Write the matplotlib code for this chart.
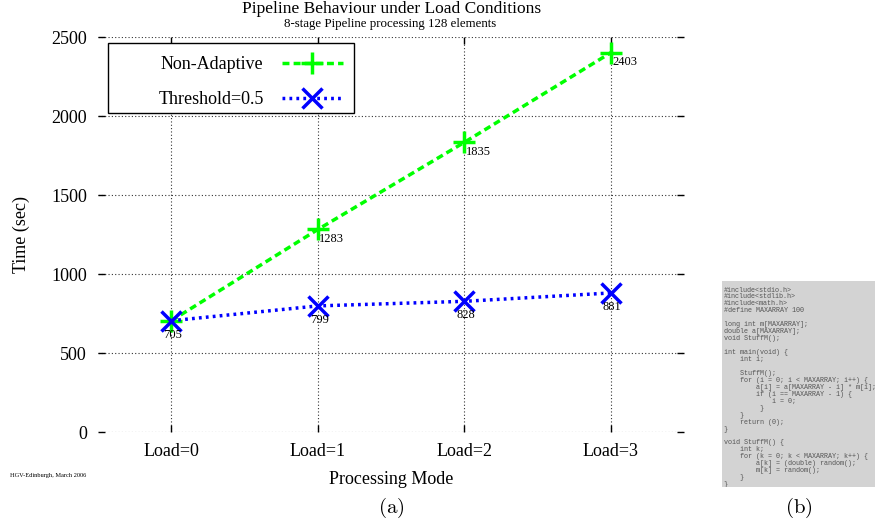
import numpy as np
import matplotlib
matplotlib.use("Agg")
import matplotlib.pyplot as plt
from matplotlib.patches import Rectangle

plt.rcParams['font.family'] = ['Liberation Serif', 'DejaVu Serif']
plt.rcParams['mathtext.fontset'] = 'cm'

# Data ##############################################################
modes = ["Load=0", "Load=1", "Load=2", "Load=3"]
non_adaptive = [705, 1283, 1835, 2403]
threshold = [705, 799, 828, 881]
y_ticks = [0, 500, 1000, 1500, 2000, 2500]

code_lines = [
    "#include<stdio.h>",
    "#include<stdlib.h>",
    "#include<math.h>",
    "#define MAXARRAY 100",
    "",
    "long int m[MAXARRAY];",
    "double a[MAXARRAY];",
    "void StuffM();",
    "",
    "int main(void) {",
    "    int i;",
    "",
    "    StuffM();",
    "    for (i = 0; i < MAXARRAY; i++) {",
    "        a[i] = a[MAXARRAY - i] * m[i];",
    "        if (i == MAXARRAY - 1) {",
    "            i = 0;",
    "         }",
    "    }",
    "    return (0);",
    "}",
    "",
    "void StuffM() {",
    "    int k;",
    "    for (k = 0; k < MAXARRAY; k++) {",
    "        a[k] = (double) random();",
    "        m[k] = random();",
    "    }",
    "}",
]

# Figure ############################################################
fig = plt.figure(figsize=(8.75, 5.25), dpi=100)
ax = fig.add_axes([0.112, 0.177, 0.670, 0.752])

x = np.arange(len(modes))
ax.plot(x, non_adaptive, color='#00ff00', linestyle=(0, (2, 1.2)), lw=2.5,
        marker='+', markersize=16, mew=2.5, label="Non-Adaptive")
ax.plot(x, threshold, color='#0000ff', linestyle=(0, (0.8, 1.2)), lw=2.5,
        marker='x', markersize=15, mew=2.5, label="Threshold=0.5")

# value labels
for xi, v in zip(x, non_adaptive):
    if xi == 0:
        continue
    ax.annotate(str(v), (xi, v), xytext=(1, -7), textcoords='offset points',
                ha='left', va='center', fontsize=9)
for xi, v in zip(x, threshold):
    ax.annotate(str(v), (xi, v), xytext=(1, -10), textcoords='offset points',
                ha='center', va='center', fontsize=9)

ax.set_xlim(-0.5, 3.5)
ax.set_ylim(0, 2500)
ax.set_xticks(x)
ax.set_xticklabels(modes)
ax.set_yticks(y_ticks)
ax.tick_params(direction='in', length=5, width=1, labelsize=13,
               top=True, right=True, pad=8)
for s in ax.spines.values():
    s.set_visible(False)
ax.grid(True, linestyle=(0, (1, 2)), color='#333333', lw=0.8)
ax.set_axisbelow(True)

ax.set_xlabel("Processing Mode", fontsize=13, labelpad=8)
ax.set_ylabel("Time (sec)", fontsize=13, labelpad=15)
fig.text(0.447, 0.975, "Pipeline Behaviour under Load Conditions",
         ha='center', va='baseline', fontsize=12.5)
fig.text(0.446, 0.949, "8-stage Pipeline processing 128 elements",
         ha='center', va='baseline', fontsize=9.3)
fig.text(0.011, 0.095, "HGV-Edinburgh, March 2006", ha='left', va='center',
         fontsize=4.6)

# legend: text right-aligned, box drawn separately to match the wide frame
leg = ax.legend(loc='upper right', bbox_to_anchor=(0.418, 0.952),
                borderaxespad=0, frameon=False, markerfirst=False,
                handlelength=3.4, fontsize=13, labelspacing=1.0,
                borderpad=0, handletextpad=1.0)
ax.add_patch(Rectangle((0.017, 0.808), 0.42, 0.177, transform=ax.transAxes,
                       facecolor='white', edgecolor='black', lw=1.0,
                       zorder=4))
leg.set_zorder(5)

fig.text(0.447, 0.032, r'$(\mathrm{a})$', ha='center', va='center', fontsize=15)
fig.text(0.913, 0.032, r'$(\mathrm{b})$', ha='center', va='center', fontsize=15)

# code panel
cax = fig.add_axes([0.825, 0.072, 0.175, 0.392])
cax.set_facecolor('#d3d3d3')
cax.set_xticks([])
cax.set_yticks([])
for s in cax.spines.values():
    s.set_visible(False)
cax.text(0.012, 0.975, "\n".join(code_lines), transform=cax.transAxes,
         ha='left', va='top', fontsize=4.9, linespacing=0.99,
         family='Liberation Mono', color='#555555', clip_on=True)

fig.savefig("out.png", dpi=100)
